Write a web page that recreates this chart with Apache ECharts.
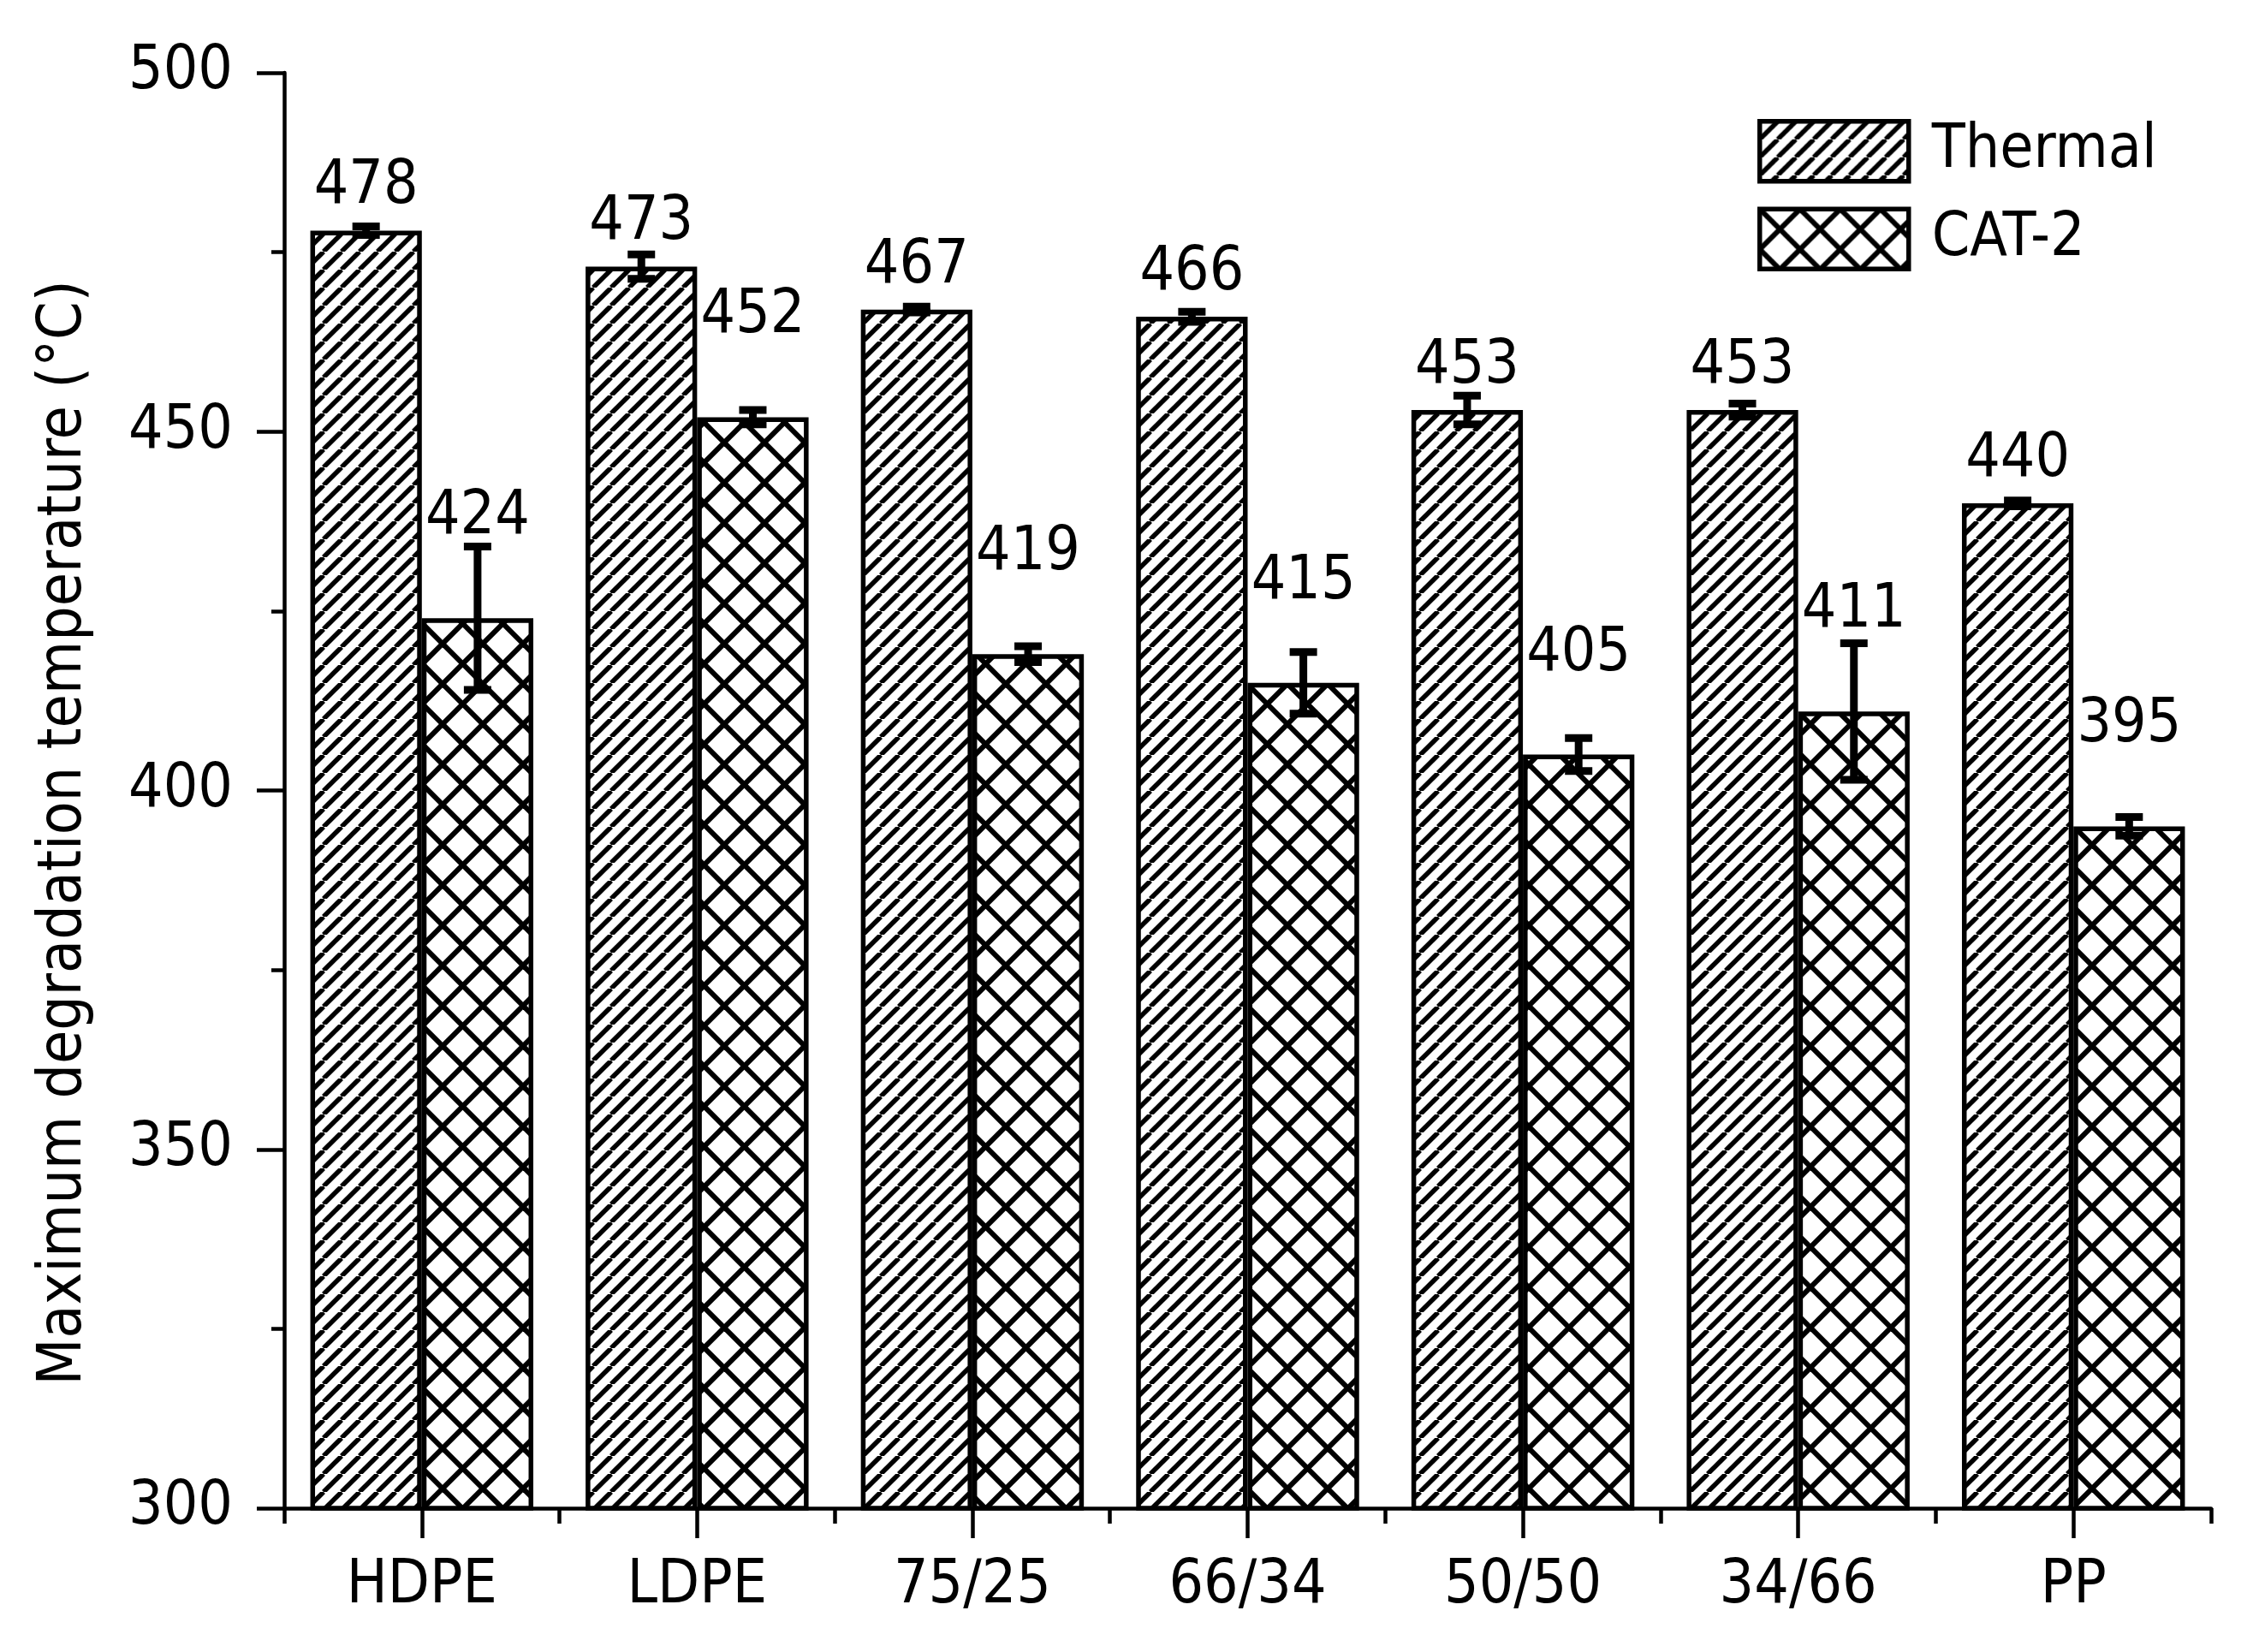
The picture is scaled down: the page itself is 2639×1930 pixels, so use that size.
<!DOCTYPE html>
<html>
<head>
<meta charset="utf-8">
<script src="https://cdn.jsdelivr.net/npm/echarts@6/dist/echarts.min.js"></script>
<style>
html,body{margin:0;padding:0;background:#fff;}
#chart{width:2639px;height:1930px;}
</style>
</head>
<body>
<div id="chart"></div>
<script>
// ---- data ----
const categories = ['HDPE', 'LDPE', '75/25', '66/34', '50/50', '34/66', 'PP'];
const seriesNames = ['Thermal', 'CAT-2'];
const thermal = [478, 473, 467, 466, 453, 453, 440];
const cat2 = [424, 452, 419, 415, 405, 411, 395];
const thermalErr = [0.6, 1.7, 0.4, 0.7, 2.0, 0.9, 0.4];
const cat2Err = [10, 1.0, 1.1, 4.3, 2.3, 9.5, 1.3];
const yTicks = [300, 350, 400, 450, 500];

// ---- styling ----
const FONT = "'DejaVu Sans Condensed', 'DejaVu Sans', sans-serif";
const FS = 71;

function hatchCanvas(T, w, both) {
  const c = document.createElement('canvas');
  c.width = T; c.height = T;
  const g = c.getContext('2d');
  g.fillStyle = '#fff';
  g.fillRect(0, 0, T, T);
  g.strokeStyle = '#000';
  g.lineWidth = w;
  for (let k = -1; k <= 1; k++) {
    g.beginPath();
    g.moveTo(k * T, T);
    g.lineTo(k * T + T, 0);
    g.stroke();
    if (both) {
      g.beginPath();
      g.moveTo(k * T, 0);
      g.lineTo(k * T + T, T);
      g.stroke();
    }
  }
  return c;
}
const thermalFill = { image: hatchCanvas(21, 5.5, false), repeat: 'repeat' };
const catFill = { image: hatchCanvas(47, 6, true), repeat: 'repeat' };

const BAR_FRAC = 0.405;

function errData(vals, errs) {
  return vals.map((v, i) => [i, v, errs[i]]);
}

function errRender(side) {
  return function (params, api) {
    const idx = api.value(0);
    const v = api.value(1);
    const e = api.value(2);
    const band = api.size([1, 0])[0];
    const c = api.coord([idx, v]);
    const x = c[0] + side * band * BAR_FRAC / 2;
    const top = api.coord([idx, v + e])[1];
    const bot = api.coord([idx, v - e])[1];
    const hw = 16;
    const st = { stroke: '#000', lineWidth: 9 };
    return {
      type: 'group',
      children: [
        { type: 'line', shape: { x1: x, y1: top, x2: x, y2: bot }, style: st },
        { type: 'line', shape: { x1: x - hw, y1: top, x2: x + hw, y2: top }, style: st },
        { type: 'line', shape: { x1: x - hw, y1: bot, x2: x + hw, y2: bot }, style: st }
      ]
    };
  };
}

const chart = echarts.init(document.getElementById('chart'), null, { renderer: 'canvas' });

const labelBase = { show: true, position: 'top', color: '#000', fontFamily: FONT, fontSize: FS, lineHeight: FS };

chart.setOption({
  backgroundColor: '#fff',
  animation: false,
  textStyle: { fontFamily: FONT },
  grid: { left: 332, right: 56, top: 85, bottom: 168, containLabel: false },
  legend: {
    data: seriesNames,
    orient: 'vertical',
    left: 2053, top: 139,
    padding: 0,
    itemWidth: 174, itemHeight: 70, itemGap: 27,
    icon: 'rect',
    itemStyle: { borderColor: '#000', borderWidth: 5.5 },
    textStyle: { fontFamily: FONT, fontSize: FS, color: '#000', padding: [0, 0, 0, 22] }
  },
  xAxis: [
    {
      type: 'category', data: categories,
      axisLine: { show: true, lineStyle: { color: '#000', width: 4.5 } },
      axisTick: { show: true, alignWithLabel: true, length: 35, lineStyle: { color: '#000', width: 4.5 } },
      axisLabel: { color: '#000', fontFamily: FONT, fontSize: FS, lineHeight: FS, margin: 56 },
      splitLine: { show: false }
    },
    {
      type: 'category', data: categories, position: 'bottom',
      axisLine: { show: false },
      axisTick: { show: true, length: 18, lineStyle: { color: '#000', width: 4.5 } },
      axisLabel: { show: false },
      splitLine: { show: false }
    }
  ],
  yAxis: {
    type: 'value', min: yTicks[0], max: yTicks[yTicks.length - 1], interval: yTicks[1] - yTicks[0],
    axisLine: { show: true, lineStyle: { color: '#000', width: 4.5 } },
    axisTick: { show: true, length: 32, lineStyle: { color: '#000', width: 4.5 } },
    minorTick: { show: true, splitNumber: 2, length: 15, lineStyle: { color: '#000', width: 4.5 } },
    axisLabel: { color: '#000', fontFamily: FONT, fontSize: FS, margin: 60 },
    splitLine: { show: false }
  },
  graphic: [{
    type: 'text', x: 76, y: 973, rotation: Math.PI / 2,
    style: {
      text: 'Maximum degradation temperature (°C)',
      fill: '#000', font: FS + 'px ' + FONT,
      textAlign: 'center', textVerticalAlign: 'middle'
    }
  }],
  series: [
    {
      name: seriesNames[0], type: 'bar', data: thermal,
      barWidth: (BAR_FRAC * 100) + '%', barGap: '0%',
      itemStyle: { color: thermalFill, borderColor: '#000', borderWidth: 5.5 },
      label: Object.assign({}, labelBase, { distance: 15 }),
      z: 2
    },
    {
      name: seriesNames[1], type: 'bar', data: cat2,
      barWidth: (BAR_FRAC * 100) + '%', barGap: '0%',
      itemStyle: { color: catFill, borderColor: '#000', borderWidth: 5.5 },
      label: Object.assign({}, labelBase, { distance: 82 }),
      z: 2
    },
    {
      type: 'custom', name: 'errThermal', data: errData(thermal, thermalErr),
      renderItem: errRender(-1), encode: { x: 0, y: 1 }, z: 5, silent: true
    },
    {
      type: 'custom', name: 'errCat', data: errData(cat2, cat2Err),
      renderItem: errRender(1), encode: { x: 0, y: 1 }, z: 5, silent: true
    }
  ]
});
</script>
</body>
</html>
